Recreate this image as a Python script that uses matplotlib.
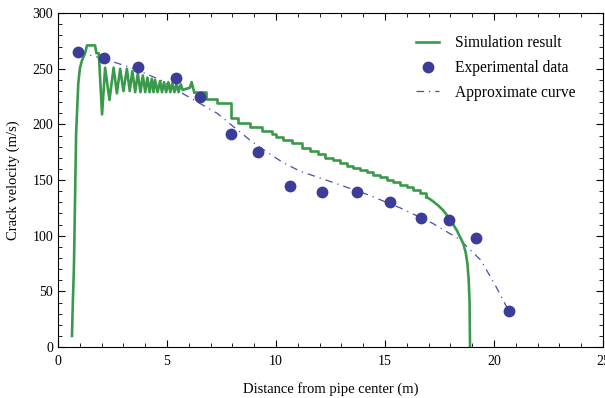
import numpy as np
import matplotlib.pyplot as plt
from matplotlib.ticker import MultipleLocator

plt.rcParams['font.family'] = ['Liberation Serif', 'DejaVu Serif']
plt.rcParams['mathtext.fontset'] = 'stix'

# simulation result: rise + oscillating part
sim_x = [0.64, 0.68, 0.73, 0.78, 0.83, 0.93, 1.0, 1.09, 1.24, 1.33, 1.70, 1.76, 1.87,
         2.02, 2.16, 2.36, 2.55, 2.70, 2.85, 3.00, 3.16, 3.29, 3.41, 3.54, 3.66, 3.78,
         3.89, 4.00, 4.10, 4.20, 4.30, 4.38, 4.45, 4.57, 4.68, 4.77, 4.86, 4.96, 5.06,
         5.15, 5.24, 5.34, 5.44, 5.53, 5.63, 5.72, 6.05, 6.13, 6.22, 6.25]
sim_y = [10, 40, 72, 132, 192, 237, 250, 257, 264, 271, 271, 264, 264,
         209, 251, 222, 251, 228, 250, 230, 250, 230, 248, 229, 246, 229,
         244, 229, 242, 229, 241, 229, 240, 229, 239, 229, 238, 229, 238,
         229, 237, 229, 237, 229, 236, 231, 233, 238, 231, 229]

# simulation result: staircase part
step_x = [6.25, 6.80, 7.28, 7.95, 8.27, 8.81, 9.34, 9.80, 10.02, 10.34, 10.72, 11.18,
          11.56, 11.94, 12.25, 12.63, 12.94, 13.24, 13.55, 13.85, 14.16, 14.46, 14.77,
          15.08, 15.38, 15.69, 15.99, 16.30, 16.61, 16.90]
step_y = [229, 223, 219, 205.5, 201, 198, 194, 191, 188.5, 186, 183, 179,
          176, 173, 170, 168, 165, 163, 161, 159, 157, 154.5, 152.5,
          150, 148, 145.5, 143.5, 141, 138, 135]

# simulation result: tail
tail_x = [16.90, 17.20, 17.45, 17.66, 17.90, 18.10, 18.29, 18.44, 18.59, 18.70, 18.78,
          18.84, 18.88, 18.90]
tail_y = [135, 131, 127, 123, 117, 111, 105, 99, 93, 85, 75, 60, 40, 0]

# experimental data
exp_x = [0.92, 2.11, 3.67, 5.41, 6.51, 7.94, 9.17, 10.64, 12.1, 13.7, 15.23, 16.65,
         17.94, 19.17, 20.69]
exp_y = [265, 260, 252, 242, 225, 191, 175, 145, 139, 139, 130, 116, 114, 98, 32]

# approximate curve
apx_x = [0.92, 2.1, 3.5, 4.7, 5.7, 7.3, 8.8, 9.6, 10.3, 11.1, 12.6, 14.2, 15.7, 17.2,
         18.4, 19.4, 20.1, 20.69]
apx_y = [265, 259, 250, 240, 228, 210, 186, 175, 166, 158, 148, 137, 125, 111,
         97, 78, 54, 32]

green = '#3a9a4c'
blue = '#3b3d98'

fig = plt.figure(figsize=(6.05, 3.98), dpi=100)
ax = fig.add_axes([0.0959, 0.128, 0.9008, 0.839])

ax.plot(sim_x, sim_y, color=green, lw=1.9, label='Simulation result', zorder=2)
ax.plot(step_x, step_y, color=green, lw=1.9, drawstyle='steps-post', zorder=2)
ax.plot(tail_x, tail_y, color=green, lw=1.9, zorder=2)
ax.plot(exp_x, exp_y, 'o', color=blue, ms=8.5, mec='none', label='Experimental data', zorder=3)
ax.plot(apx_x, apx_y, color='#4a4cae', lw=0.9, linestyle=(0, (6, 4, 1, 4)),
        label='Approximate curve', zorder=1)

ax.set_xlim(0, 25)
ax.set_ylim(0, 300)
ax.xaxis.set_major_locator(MultipleLocator(5))
ax.xaxis.set_minor_locator(MultipleLocator(1))
ax.yaxis.set_major_locator(MultipleLocator(50))
ax.yaxis.set_minor_locator(MultipleLocator(10))
ax.tick_params(which='both', direction='in', top=True, right=True, labelsize=10)
ax.tick_params(which='major', length=5, width=0.8)
ax.tick_params(which='minor', length=3, width=0.6)
ax.tick_params(axis='x', pad=6)

ax.set_xlabel('Distance from pipe center (m)', fontsize=10.5, labelpad=10)
ax.set_ylabel('Crack velocity (m/s)', fontsize=10.5, labelpad=9)

ax.legend(loc='upper right', bbox_to_anchor=(0.975, 0.975), frameon=False, fontsize=11.2,
          handlelength=1.5, handletextpad=1.0, labelspacing=0.55)

fig.savefig('out.png', dpi=100)
